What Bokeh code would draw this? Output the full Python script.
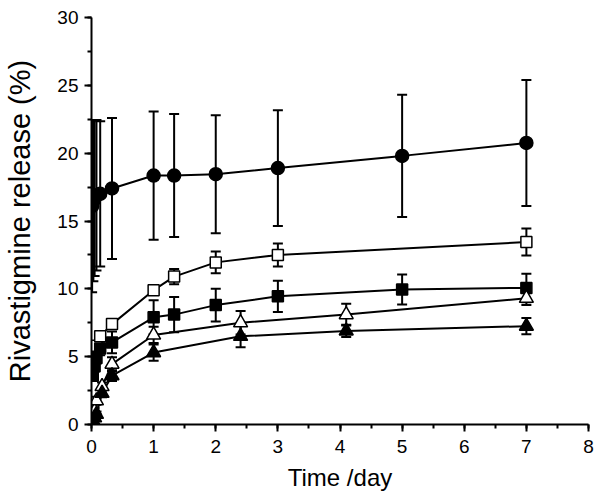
import math
from bokeh.plotting import figure
from bokeh.models import (ColumnDataSource, Whisker, TeeHead, Range1d,
                          SingleIntervalTicker, FixedTicker, LinearAxis)
from bokeh.embed import file_html
from bokeh.resources import INLINE

# ---- data ----
t_circle = [0.01, 0.03, 0.05, 0.08, 0.14, 0.33, 1.0, 1.33, 2.0, 3.0, 5.0, 7.0]
y_circle = [16.1, 16.5, 16.7, 16.9, 17.0, 17.4, 18.35, 18.35, 18.45, 18.9, 19.8, 20.75]
e_circle = [6.35, 5.95, 5.75, 5.55, 5.35, 5.2, 4.73, 4.53, 4.35, 4.27, 4.5, 4.65]

t_osq = [0.02, 0.05, 0.08, 0.14, 0.33, 1.0, 1.33, 2.0, 3.0, 7.0]
y_osq = [4.9, 5.3, 5.8, 6.5, 7.4, 9.9, 10.9, 11.95, 12.5, 13.45]
e_osq = [0.3, 0.3, 0.3, 0.3, 0.3, 0.3, 0.57, 0.8, 0.85, 1.0]

t_fsq = [0.02, 0.05, 0.08, 0.14, 0.33, 1.0, 1.33, 2.0, 3.0, 5.0, 7.0]
y_fsq = [3.6, 4.3, 4.9, 5.6, 6.05, 7.9, 8.1, 8.8, 9.45, 9.95, 10.07]
e_fsq = [0.4, 0.4, 0.4, 0.5, 0.8, 1.25, 1.3, 1.2, 1.15, 1.1, 1.05]

t_otri = [0.02, 0.05, 0.08, 0.17, 0.33, 1.0, 2.4, 4.1, 7.0]
y_otri = [0.6, 1.0, 1.75, 2.8, 4.45, 6.6, 7.5, 8.1, 9.3]
e_otri = [0.2, 0.2, 0.3, 0.3, 0.5, 0.6, 0.86, 0.8, 0.5]

t_ftri = [0.02, 0.05, 0.08, 0.17, 0.33, 1.0, 2.4, 4.1, 7.0]
y_ftri = [0.3, 0.5, 0.75, 2.3, 3.6, 5.3, 6.5, 6.9, 7.25]
e_ftri = [0.2, 0.2, 0.2, 0.3, 0.4, 0.6, 0.8, 0.45, 0.6]

x_ticks = [0, 1, 2, 3, 4, 5, 6, 7, 8]
y_ticks = [0, 5, 10, 15, 20, 25, 30]
x_label = "Time /day"
y_label = "Rivastigmine release (%)"

FONT = "Liberation Sans"

p = figure(width=600, height=494, output_backend="svg", toolbar_location=None,
           x_range=Range1d(0, 8), y_range=Range1d(0, 30),
           min_border_left=88, min_border_right=12,
           min_border_top=17, min_border_bottom=70)
p.outline_line_color = None
p.xgrid.visible = False
p.ygrid.visible = False
p.background_fill_color = "white"
p.border_fill_color = "white"

p.xaxis.ticker = SingleIntervalTicker(interval=1, num_minor_ticks=2)
p.yaxis.ticker = SingleIntervalTicker(interval=5, num_minor_ticks=2)
for ax in (p.xaxis, p.yaxis):
    ax.axis_line_width = 2
    ax.axis_line_color = "black"
    ax.major_tick_line_width = 2
    ax.minor_tick_line_width = 2
    ax.major_tick_line_color = "black"
    ax.minor_tick_line_color = "black"
    ax.major_tick_in = 0
    ax.major_tick_out = 7
    ax.minor_tick_in = 0
    ax.minor_tick_out = 4
    ax.major_label_text_font = FONT
    ax.major_label_text_font_size = "19px"
    ax.major_label_text_color = "black"
p.xaxis.major_label_standoff = 8
p.yaxis.major_label_standoff = 6


def title_axis(label, size, standoff):
    a = LinearAxis(axis_label=label, ticker=FixedTicker(ticks=[]))
    a.axis_line_color = None
    a.major_tick_line_color = None
    a.minor_tick_line_color = None
    a.major_tick_out = 0
    a.minor_tick_out = 0
    a.major_label_standoff = 0
    a.major_label_text_font_size = "1px"
    a.axis_label_text_font = FONT
    a.axis_label_text_font_size = size
    a.axis_label_text_font_style = "normal"
    a.axis_label_text_color = "black"
    a.axis_label_standoff = standoff
    return a


p.add_layout(title_axis(x_label, "24px", 8), "below")
p.add_layout(title_axis(y_label, "29px", 19), "left")

series = [
    (t_circle, y_circle, e_circle, "circle", 13, "black"),
    (t_osq, y_osq, e_osq, "square", 11, "white"),
    (t_fsq, y_fsq, e_fsq, "square", 11, "black"),
    (t_otri, y_otri, e_otri, "triangle", 14, "white"),
    (t_ftri, y_ftri, e_ftri, "triangle", 14, "black"),
]

sources = []
for t, y, e, mk, sz, fill in series:
    src = ColumnDataSource(dict(t=t, y=y,
                                lo=[a - b for a, b in zip(y, e)],
                                hi=[a + b for a, b in zip(y, e)]))
    sources.append(src)
    p.line("t", "y", source=src, line_color="black", line_width=2)

for src in sources:
    w = Whisker(source=src, base="t", lower="lo", upper="hi",
                line_color="black", line_width=2,
                upper_head=TeeHead(size=10, line_width=2, line_color="black"),
                lower_head=TeeHead(size=10, line_width=2, line_color="black"))
    p.add_layout(w)

for src, (t, y, e, mk, sz, fill) in zip(sources, series):
    p.scatter("t", "y", source=src, marker=mk, size=sz, fill_color=fill,
              line_color="black", line_width=1.5)

open("out.html", "w").write(file_html(p, INLINE))
